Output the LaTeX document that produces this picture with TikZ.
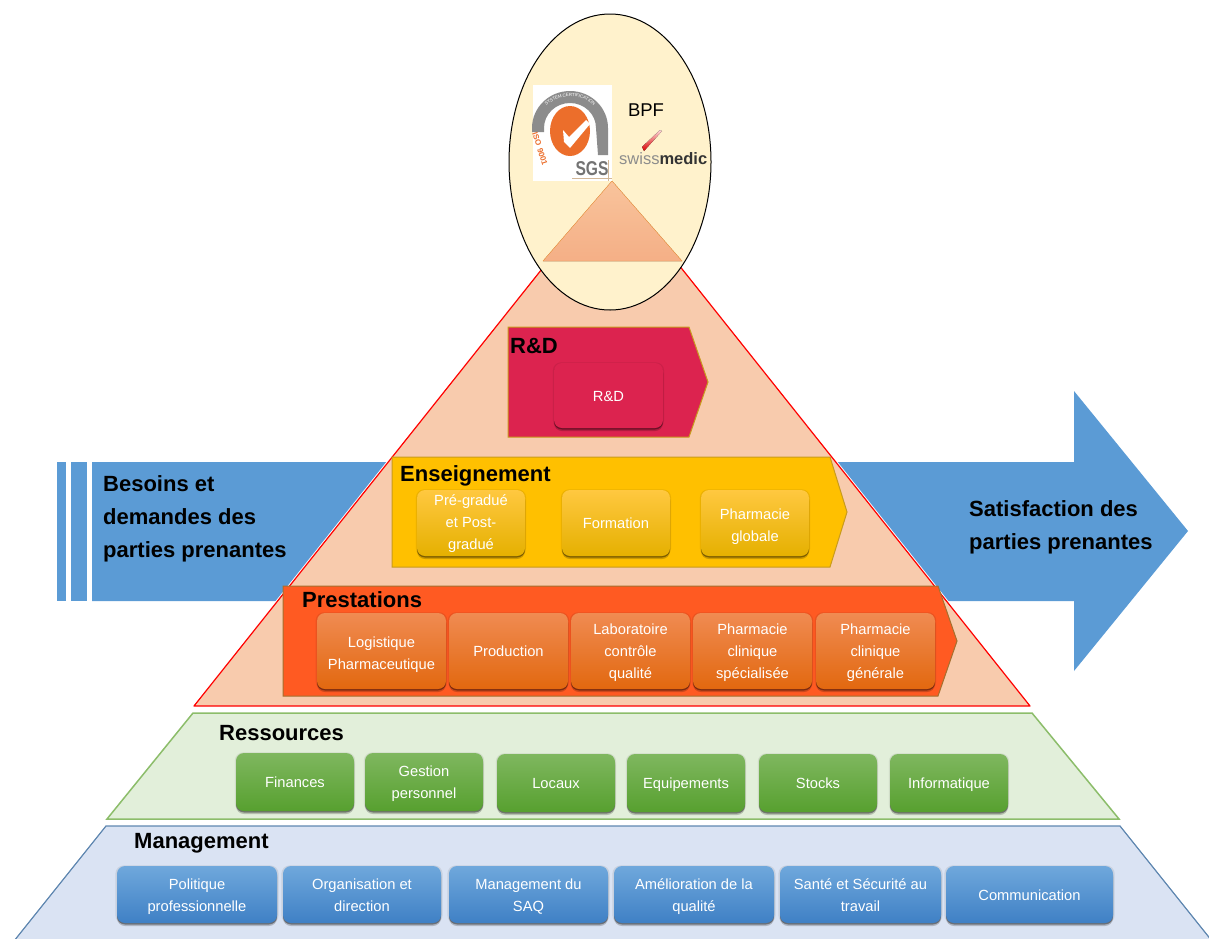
\documentclass[tikz,border=0pt]{standalone}
\usepackage{fontspec}
\setmainfont{Liberation Sans}
\usetikzlibrary{positioning, shadows, shapes.geometric, decorations.text}
\definecolor{ArrowBlue}{HTML}{5B9BD5}
\definecolor{PyramidFill}{HTML}{F8CBAD}
\definecolor{EggFill}{HTML}{FFF2CC}
\definecolor{RdFill}{HTML}{DC234F}
\definecolor{TeachFill}{HTML}{FFC000}
\definecolor{ServiceFill}{HTML}{FF5A22}
\definecolor{EdgeBrown}{HTML}{A5702F}
\definecolor{EdgeGold}{HTML}{C89B1E}
\definecolor{ResFill}{HTML}{E2EFDA}
\definecolor{ResEdge}{HTML}{8CBD6A}
\definecolor{MgtFill}{HTML}{DAE3F3}
\definecolor{MgtEdge}{HTML}{5F87B0}
\definecolor{SgsOrange}{HTML}{EC6E2B}
\definecolor{YellowTop}{HTML}{FFC840}
\definecolor{YellowMid}{HTML}{FFC70A}
\definecolor{YellowLow}{HTML}{E5B000}
\definecolor{OrangeTop}{HTML}{F08B52}
\definecolor{OrangeMid}{HTML}{F37A1F}
\definecolor{OrangeLow}{HTML}{E2680F}
\definecolor{GreenTop}{HTML}{7FB75F}
\definecolor{GreenMid}{HTML}{6BB03F}
\definecolor{GreenLow}{HTML}{57A02F}
\definecolor{BlueTop}{HTML}{6FA8DC}
\definecolor{BlueMid}{HTML}{4F93D5}
\definecolor{BlueLow}{HTML}{3F80C5}
\newcommand{\chiplift}{18pt}
\tikzset{%
  chip_lift/.code={\renewcommand{\chiplift}{#1}},%
  two_lines/.style={chip_lift=42.6pt},%
  two_lines_low/.style={chip_lift=40pt},%
  three_lines/.style={chip_lift=60.6pt},%
  chip/.style={%
    rectangle,%
    rounded corners=8,%
    text=white,%
    inner sep=0,%
    outer sep=0,%
    align=center,%
    font={\fontsize{14.7}{22}\selectfont},%
    execute at begin node={\rule{0pt}{\chiplift}},%
    execute at end node={\strut},%
    general shadow={fill=black, opacity=0.08, shadow scale=1.02},%
    drop shadow={shadow xshift=0pt, shadow yshift=-3pt, opacity=0.2, fill=black},%
    drop shadow={shadow xshift=0pt, shadow yshift=-1.5pt, opacity=0.35, fill=black},%
  },
  chip_red/.style={chip, fill=RdFill,%
    minimum width=109, minimum height=65},
  chip_yellow/.style={chip, top color=YellowTop, middle color=YellowMid, bottom color=YellowLow,%
    minimum width=108, minimum height=66},
  chip_orange/.style={chip, top color=OrangeTop, middle color=OrangeMid, bottom color=OrangeLow,%
    minimum width=119, minimum height=76},
  chip_green/.style={chip, top color=GreenTop, middle color=GreenMid, bottom color=GreenLow,%
    minimum width=118, minimum height=58},
  chip_blue/.style={chip, top color=BlueTop, middle color=BlueMid, bottom color=BlueLow,%
    minimum width=160, minimum height=57},
  heading/.style={%
    anchor=base west,%
    inner sep=0,%
    font={\fontsize{22}{33}\selectfont\bfseries},%
    align=left,%
  },
}
\begin{document}
\begin{tikzpicture}[x=1pt, y=-1pt]
    \useasboundingbox (0,0) rectangle (1209,938);

    % flow arrow behind the pyramid
    \fill [ArrowBlue] (57,462) rectangle (66,601);
    \fill [ArrowBlue] (71,462) rectangle (87,601);
    \fill [ArrowBlue]
      (92,462) -- (1074,462) -- (1074,391) -- (1188,531) -- (1074,671)
      -- (1074,601) -- (92,601) -- cycle;

    % pyramid
    \draw [draw=white, line width=3] (612,181) -- (194,706) -- (1030,706) -- cycle;
    \draw [draw=red, fill=PyramidFill, line width=1.2, line join=round]
      (612,181) -- (194,706) -- (1030,706) -- cycle;

    % egg on top
    \node [draw=black, fill=EggFill, ellipse, minimum width=202, minimum height=296,
      line width=1, inner sep=0] (Egg) at (610,162) {};
    \fill [draw=orange!60!PyramidFill, top color=PyramidFill!90!orange, bottom color=PyramidFill!70!SgsOrange]
      (612,181) -- (682,261) -- (543,261) -- cycle;

    % certification logo
    \fill [white] (533,85) rectangle (612,181);
    \fill [black!45]
      (532,132) -- (532,128) arc [start angle=180, end angle=360, x radius=38, y radius=37]
      -- (608,155) -- (598,155) -- (596,128) arc [start angle=360, end angle=180, x radius=26, y radius=25]
      -- (544,132) -- cycle;
    \path [postaction={decorate, decoration={text along path, text align=center, raise=-1.5,
        text={|\fontsize{4.5}{5}\selectfont\color{white}|SYSTEM CERTIFICATION}}}]
      (536,126) arc [start angle=180, end angle=360, x radius=34, y radius=31];
    \fill [SgsOrange] (570,131) ellipse [x radius=20, y radius=25];
    \fill [white] (563,130) -- (569,137) -- (586,120) -- (590,124) -- (570,148) -- (564,142) -- cycle;
    \node [rotate=-72, text=SgsOrange, inner sep=0, font={\fontsize{8}{8}\selectfont\bfseries}]
      (IsoLabel) at (540,149) {ISO 9001};
    \node [text=black!55, inner sep=0, xscale=0.78, font={\fontsize{20}{20}\selectfont\bfseries}]
      (SgsLabel) at (592,169) {SGS};
    \draw [draw=EdgeBrown!50, line width=0.6] (572,178) -- (612,178);
    \draw [draw=EdgeBrown!50, line width=0.6] (608,160) -- (608,181);

    \node [inner sep=0, font={\fontsize{18.5}{20}\selectfont}] (Bpf) at (646,110) {BPF};
    \node [inner sep=0, anchor=base west, font={\fontsize{16.5}{20}\selectfont}] (Swissmedic) at (619,164)
      {\textcolor{black!45}{swiss}\textcolor{black!80}{\bfseries medic}};
    \fill [top color=red!15, bottom color=red!85!black]
      (642,147) -- (660,130) -- (662,131) -- (644,151) -- cycle;

    % R&D band
    \draw [draw=EdgeGold, line width=1, fill=RdFill]
      (508,327) -- (689,327) -- (708,382) -- (689,437) -- (508,437) -- cycle;
    \node [heading] (RdTitle) at (510,353) {R\&D};
    \node [chip_red, anchor=north west] (RdChip) at (554,363) {R\&D};

    % teaching band
    \draw [draw=EdgeGold, line width=1, fill=TeachFill]
      (392,457) -- (830,457) -- (847,512) -- (830,567) -- (392,567) -- cycle;
    \node [heading] (TeachTitle) at (400,481) {Enseignement};
    \node [chip_yellow, chip_lift=59.4pt, anchor=north west] (Graduate) at (417,490) {Pré-gradué\\et Post-\\gradué};
    \node [chip_yellow, right = 37 of Graduate] (Training) {Formation};
    \node [chip_yellow, two_lines, right = 31 of Training] (GlobalPharma) {Pharmacie\\globale};

    % services band
    \draw [draw=EdgeBrown, line width=1, fill=ServiceFill]
      (283,586) -- (938,586) -- (957,641) -- (938,696) -- (283,696) -- cycle;
    \node [heading] (ServiceTitle) at (302,607) {Prestations};
    \node [chip_orange, two_lines, minimum width=129, anchor=north west] (Logistics) at (317,613) {Logistique\\Pharmaceutique};
    \node [chip_orange, right = 3 of Logistics] (Production) {Production};
    \node [chip_orange, three_lines, right = 3 of Production] (QcLab) {Laboratoire\\contrôle\\qualité};
    \node [chip_orange, three_lines, right = 3 of QcLab] (SpecPharma) {Pharmacie\\clinique\\spécialisée};
    \node [chip_orange, three_lines, right = 4 of SpecPharma] (GenPharma) {Pharmacie\\clinique\\générale};

    % resources layer
    \draw [draw=ResEdge, fill=ResFill, line width=1.5]
      (193,713) -- (1032,713) -- (1119,819) -- (107,819) -- cycle;
    \node [heading] (ResTitle) at (219,740) {Ressources};
    \node [chip_green, anchor=north west] (Finances) at (236,753) {Finances};
    \node [chip_green, two_lines_low, right = 11 of Finances] (Staff) {Gestion\\personnel};
    \node [chip_green, anchor=north west] (Premises) at (497,754) {Locaux};
    \node [chip_green, right = 12 of Premises] (Equipment) {Equipements};
    \node [chip_green, right = 14 of Equipment] (Stocks) {Stocks};
    \node [chip_green, right = 13 of Stocks] (Computing) {Informatique};

    % management layer
    \draw [draw=MgtEdge, fill=MgtFill, line width=1.2]
      (106,826) -- (1120,826) -- (1212,941) -- (14,941) -- cycle;
    \node [heading] (MgtTitle) at (134,848) {Management};
    \node [chip_blue, two_lines_low, anchor=north west] (Policy) at (117,866) {Politique\\professionnelle};
    \node [chip_blue, two_lines_low, minimum width=158, right = 6 of Policy] (Direction) {Organisation et\\direction};
    \node [chip_blue, two_lines_low, minimum width=159, right = 8 of Direction] (Saq) {Management du\\SAQ};
    \node [chip_blue, two_lines_low, right = 6 of Saq] (Quality) {Amélioration de la\\qualité};
    \node [chip_blue, two_lines_low, minimum width=161, right = 6 of Quality] (Safety) {Santé et Sécurité au\\travail};
    \node [chip_blue, minimum width=167, right = 5 of Safety] (Comms) {Communication};

    % arrow captions
    \node [heading] (NeedsText) at (103,557) {Besoins et\\demandes des\\parties prenantes};
    \node [heading] (SatisfactionText) at (969,549) {Satisfaction des\\parties prenantes};
\end{tikzpicture}
\end{document}
